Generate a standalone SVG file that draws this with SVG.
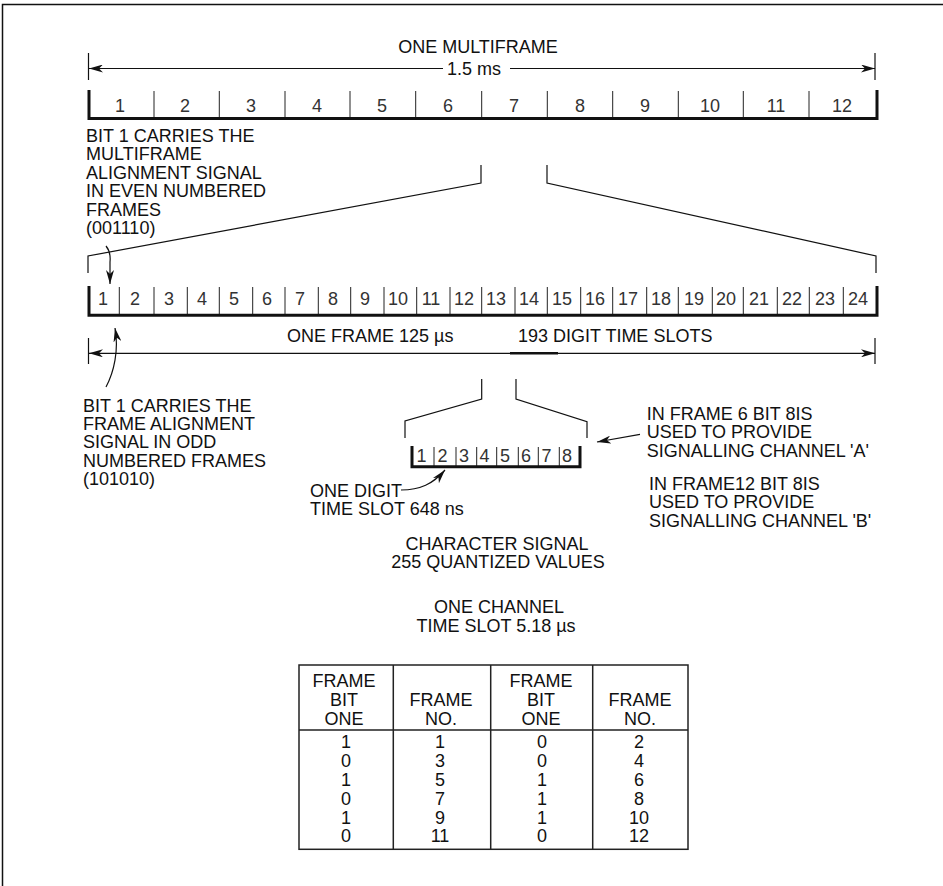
<svg xmlns="http://www.w3.org/2000/svg" width="943" height="886" viewBox="0 0 943 886">
<style>
.lbl{font-family:"Liberation Sans",Arial,sans-serif;font-size:18px;fill:#111}
.mid{text-anchor:middle}
.dig{font-family:"Liberation Sans",Arial,sans-serif;font-size:18px;fill:#333;text-anchor:middle}
.tb{font-family:"Liberation Sans",Arial,sans-serif;font-size:18px;fill:#111;text-anchor:middle}
.thin{stroke:#111;stroke-width:1.2;fill:none}
.thick{stroke:#111;stroke-width:3;fill:none}
.div{stroke:#222;stroke-width:1;fill:none}
</style>
<defs>
<marker id="ah" viewBox="0 0 14 8" refX="14" refY="4" markerWidth="14" markerHeight="8" markerUnits="userSpaceOnUse" orient="auto-start-reverse">
<path d="M0,0 L14,4 L0,8 L4,4 Z" fill="#111"/>
</marker>
</defs>
<rect width="943" height="886" fill="#fff"/>
<path d="M2.5,886 V4.5 H943" stroke="#111" stroke-width="1.5" fill="none"/>

<g id="multiframe">
<text class="lbl mid" x="478" y="53">ONE MULTIFRAME</text>
<text class="lbl mid" x="474" y="75">1.5 ms</text>
<path class="div" d="M154,91 V118 M219.3,91 V118 M285,91 V118 M350,91 V118 M415.7,91 V118 M481.7,91 V118 M547.3,91 V118 M612.7,91 V118 M678.3,91 V118 M743.3,91 V118 M809,91 V118"/>
<path class="thick" d="M89,90 V118.5 H877 V90"/>
<text class="dig" x="120" y="112">1</text>
<text class="dig" x="185" y="112">2</text>
<text class="dig" x="251" y="112">3</text>
<text class="dig" x="317" y="112">4</text>
<text class="dig" x="382" y="112">5</text>
<text class="dig" x="448" y="112">6</text>
<text class="dig" x="514" y="112">7</text>
<text class="dig" x="580" y="112">8</text>
<text class="dig" x="645" y="112">9</text>
<text class="dig" x="710" y="112">10</text>
<text class="dig" x="776" y="112">11</text>
<text class="dig" x="842" y="112">12</text>
</g>

<g id="label-multiframe-bit">
<text class="lbl" x="86" y="141.7">BIT 1 CARRIES THE</text>
<text class="lbl" x="86" y="160.2">MULTIFRAME</text>
<text class="lbl" x="86" y="178.6">ALIGNMENT SIGNAL</text>
<text class="lbl" x="86" y="197">IN EVEN NUMBERED</text>
<text class="lbl" x="86" y="215.5">FRAMES</text>
<text class="lbl" x="86" y="234">(001110)</text>
</g>

<g id="frame">
<path class="div" d="M119.3,287 V315 M154,287 V315 M187.3,287 V315 M219.3,287 V315 M252.7,287 V315 M285,287 V315 M318.3,287 V315 M350.7,287 V315 M384,287 V315 M416.7,287 V315 M450,287 V315 M481.7,287 V315 M515,287 V315 M547.3,287 V315 M580.7,287 V315 M612.7,287 V315 M646.7,287 V315 M678.3,287 V315 M712.3,287 V315 M743.3,287 V315 M777.3,287 V315 M809.3,287 V315 M843.3,287 V315"/>
<path class="thick" d="M89,286 V315.3 H877 V286"/>
<text class="dig" x="103" y="305">1</text>
<text class="dig" x="135" y="305">2</text>
<text class="dig" x="169" y="305">3</text>
<text class="dig" x="202" y="305">4</text>
<text class="dig" x="234" y="305">5</text>
<text class="dig" x="267" y="305">6</text>
<text class="dig" x="300" y="305">7</text>
<text class="dig" x="333" y="305">8</text>
<text class="dig" x="365" y="305">9</text>
<text class="dig" x="398" y="305">10</text>
<text class="dig" x="431" y="305">11</text>
<text class="dig" x="464" y="305">12</text>
<text class="dig" x="496" y="305">13</text>
<text class="dig" x="529" y="305">14</text>
<text class="dig" x="562" y="305">15</text>
<text class="dig" x="595" y="305">16</text>
<text class="dig" x="628" y="305">17</text>
<text class="dig" x="661" y="305">18</text>
<text class="dig" x="694" y="305">19</text>
<text class="dig" x="726" y="305">20</text>
<text class="dig" x="759" y="305">21</text>
<text class="dig" x="792" y="305">22</text>
<text class="dig" x="825" y="305">23</text>
<text class="dig" x="858" y="305">24</text>
<text class="lbl" x="287" y="341.7">ONE FRAME 125 µs</text>
<text class="lbl" x="518" y="341.7">193 DIGIT TIME SLOTS</text>
</g>

<g id="label-frame-bit">
<text class="lbl" x="83" y="411.7">BIT 1 CARRIES THE</text>
<text class="lbl" x="83" y="430">FRAME ALIGNMENT</text>
<text class="lbl" x="83" y="448.3">SIGNAL IN ODD</text>
<text class="lbl" x="83" y="466.7">NUMBERED FRAMES</text>
<text class="lbl" x="83" y="485">(101010)</text>
</g>

<g id="timeslot">
<path class="div" d="M434,447 V466 M456,447 V466 M476.7,447 V466 M496.7,447 V466 M518.3,447 V466 M538.3,447 V466 M559.3,447 V466"/>
<path class="thick" d="M412,446 V466.7 H580 V446"/>
<text class="dig" x="421.5" y="461.5">1</text>
<text class="dig" x="442.5" y="461.5">2</text>
<text class="dig" x="464" y="461.5">3</text>
<text class="dig" x="484.5" y="461.5">4</text>
<text class="dig" x="505" y="461.5">5</text>
<text class="dig" x="526" y="461.5">6</text>
<text class="dig" x="546.5" y="461.5">7</text>
<text class="dig" x="567" y="461.5">8</text>
</g>

<g id="label-digit">
<text class="lbl" x="310" y="497">ONE DIGIT</text>
<text class="lbl" x="310" y="515.3">TIME SLOT 648 ns</text>
</g>

<g id="label-signalling">
<text class="lbl" x="646.7" y="420">IN FRAME 6 BIT 8IS</text>
<text class="lbl" x="646.7" y="438.3">USED TO PROVIDE</text>
<text class="lbl" x="646.7" y="456.7">SIGNALLING CHANNEL 'A'</text>
<text class="lbl" x="649" y="490">IN FRAME12 BIT 8IS</text>
<text class="lbl" x="649" y="508.3">USED TO PROVIDE</text>
<text class="lbl" x="649" y="526.7">SIGNALLING CHANNEL 'B'</text>
</g>

<g id="label-character">
<text class="lbl mid" x="497" y="550">CHARACTER SIGNAL</text>
<text class="lbl mid" x="498" y="568.3">255 QUANTIZED VALUES</text>
</g>

<g id="label-channel">
<text class="lbl mid" x="499" y="612.7">ONE CHANNEL</text>
<text class="lbl mid" x="496" y="631.7">TIME SLOT 5.18 µs</text>
</g>

<g id="table">
<rect x="299" y="665" width="389" height="184.3" fill="none" stroke="#222" stroke-width="1.5"/>
<path d="M393.3,665 V849.3 M490.7,665 V849.3 M592.7,665 V849.3 M299,730 H688" stroke="#222" stroke-width="1.5" fill="none"/>
<text class="tb" x="344" y="686.7">FRAME</text>
<text class="tb" x="344" y="705.7">BIT</text>
<text class="tb" x="344" y="725">ONE</text>
<text class="tb" x="441" y="705.7">FRAME</text>
<text class="tb" x="441" y="725">NO.</text>
<text class="tb" x="541" y="686.7">FRAME</text>
<text class="tb" x="541" y="705.7">BIT</text>
<text class="tb" x="541" y="725">ONE</text>
<text class="tb" x="640" y="705.7">FRAME</text>
<text class="tb" x="640" y="725">NO.</text>
<text class="tb" x="346" y="748.3">1</text><text class="tb" x="440" y="748.3">1</text><text class="tb" x="542" y="748.3">0</text><text class="tb" x="639" y="748.3">2</text>
<text class="tb" x="346" y="767.3">0</text><text class="tb" x="440" y="767.3">3</text><text class="tb" x="542" y="767.3">0</text><text class="tb" x="639" y="767.3">4</text>
<text class="tb" x="346" y="786.3">1</text><text class="tb" x="440" y="786.3">5</text><text class="tb" x="542" y="786.3">1</text><text class="tb" x="639" y="786.3">6</text>
<text class="tb" x="346" y="805">0</text><text class="tb" x="440" y="805">7</text><text class="tb" x="542" y="805">1</text><text class="tb" x="639" y="805">8</text>
<text class="tb" x="346" y="823.5">1</text><text class="tb" x="440" y="823.5">9</text><text class="tb" x="542" y="823.5">1</text><text class="tb" x="639" y="823.5">10</text>
<text class="tb" x="346" y="842.3">0</text><text class="tb" x="440" y="842.3">11</text><text class="tb" x="542" y="842.3">0</text><text class="tb" x="639" y="842.3">12</text>
</g>

<g id="connectors">
<path class="thin" d="M88.5,53 V80 M875,53 V80"/>
<path class="thin" d="M443,68.5 H89" marker-end="url(#ah)"/>
<path class="thin" d="M510,68.5 H875" marker-end="url(#ah)"/>
<path class="thin" d="M481,165 V183 L88,256 V273"/>
<path class="thin" d="M547,165 V183 L876,256 V273"/>
<path class="thin" d="M88.5,338 V364 M875,338 V364"/>
<path class="thin" d="M89,353.3 H875" marker-start="url(#ah)" marker-end="url(#ah)"/>
<path d="M510,353.3 H558" stroke="#111" stroke-width="2.5"/>
<path class="thin" d="M106,246 Q111,252 110,262 L110,284" marker-end="url(#ah)"/>
<path class="thin" d="M106,387 C114,372 119,350 115,328" marker-end="url(#ah)"/>
<path class="thin" d="M481.7,379 V399 L405,421 V438"/>
<path class="thin" d="M516,379 V399 L587,421.7 V438"/>
<path class="thin" d="M640,434.3 L597,442" marker-end="url(#ah)"/>
<path class="thin" d="M401,490 C420,490 433,484 445,470" marker-end="url(#ah)"/>
</g>
</svg>
